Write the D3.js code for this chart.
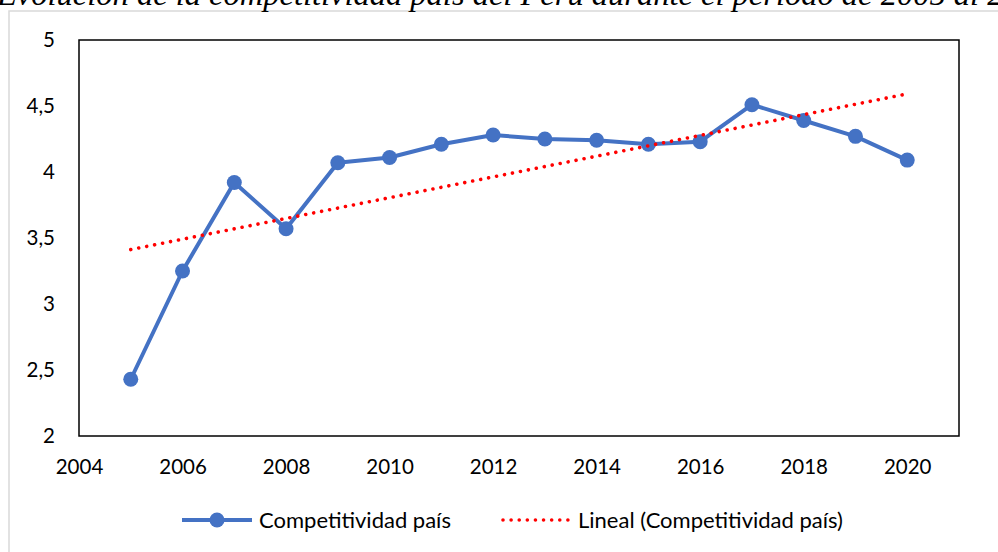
<!DOCTYPE html>
<html>
<head>
<meta charset="utf-8">
<script src="https://cdn.jsdelivr.net/npm/d3@7"></script>
<style>
  body { margin: 0; background: #fff; }
  svg { display: block; }
</style>
</head>
<body>
<div id="chart"></div>
<script>
let titleText = 'Evolución de la competitividad país del Perú durante el período de 2005 al 2020'
let years = [2005, 2006, 2007, 2008, 2009, 2010, 2011, 2012, 2013, 2014, 2015, 2016, 2017, 2018, 2019, 2020]
let scores = [2.43, 3.25, 3.92, 3.57, 4.07, 4.11, 4.21, 4.28, 4.25, 4.24, 4.21, 4.23, 4.51, 4.39, 4.27, 4.09]
let xTicks = [2004, 2006, 2008, 2010, 2012, 2014, 2016, 2018, 2020]
let yTicks = [2, 2.5, 3, 3.5, 4, 4.5, 5]
let seriesName = 'Competitividad país'
let trendName = 'Lineal (Competitividad país)'

let margin = { top: 40, left: 79, right: 39, bottom: 116 }
let fullWidth = 998
let fullHeight = 552
let width = fullWidth - margin.left - margin.right
let height = fullHeight - margin.top - margin.bottom

let font = 'Lato, "Open Sans", sans-serif'

let root = d3
  .select('#chart')
  .append('svg')
  .attr('width', fullWidth)
  .attr('height', fullHeight)

// outer chart frame (light grey)
root
  .append('rect')
  .attr('x', 9)
  .attr('y', 11)
  .attr('width', 1100)
  .attr('height', 700)
  .attr('fill', 'none')
  .attr('stroke', '#d9d9d9')
  .attr('stroke-width', 1.5)

// title, clipped at the top of the page like the original
root
  .append('text')
  .attr('x', -3)
  .attr('y', 5)
  .attr('font-family', '"Liberation Serif", "Times New Roman", serif')
  .attr('font-style', 'italic')
  .attr('font-size', 32.5)
  .attr('fill', '#000')
  .text(titleText)

let svg = root
  .append('g')
  .attr('transform', 'translate(' + margin.left + ',' + margin.top + ')')

let xPositionScale = d3.scaleLinear().domain([2004, 2021]).range([0, width])
let yPositionScale = d3.scaleLinear().domain([2, 5]).range([height, 0])

// plot area border
svg
  .append('rect')
  .attr('x', 0)
  .attr('y', 0)
  .attr('width', width)
  .attr('height', height)
  .attr('fill', 'none')
  .attr('stroke', '#000')
  .attr('stroke-width', 1.5)

let xAxis = d3
  .axisBottom(xPositionScale)
  .tickValues(xTicks)
  .tickFormat(d3.format('d'))
  .tickSize(0)
  .tickPadding(32)
svg
  .append('g')
  .attr('class', 'axis x-axis')
  .attr('transform', 'translate(0,' + height + ')')
  .call(xAxis)

let yAxis = d3
  .axisLeft(yPositionScale)
  .tickValues(yTicks)
  .tickFormat(d => String(d).replace('.', ','))
  .tickSize(0)
  .tickPadding(24)
svg
  .append('g')
  .attr('class', 'axis y-axis')
  .call(yAxis)

svg.selectAll('.axis .domain').remove()
svg
  .selectAll('.axis text')
  .attr('font-family', font)
  .attr('font-size', 20.5)
  .attr('fill', '#000')
svg.selectAll('.x-axis text').attr('dy', '0.3em')

// linear trend (least squares)
let xMean = d3.mean(years)
let yMean = d3.mean(scores)
let slope =
  d3.sum(years, (d, i) => (d - xMean) * (scores[i] - yMean)) /
  d3.sum(years, d => (d - xMean) * (d - xMean))
let intercept = yMean - slope * xMean
let trendEnds = [years[0], years[years.length - 1]].map(x => ({ x: x, y: intercept + slope * x }))

let line = d3
  .line()
  .x(d => xPositionScale(d.x))
  .y(d => yPositionScale(d.y))

let points = years.map((y, i) => ({ x: y, y: scores[i] }))

svg
  .append('path')
  .attr('class', 'score-line')
  .attr('d', line(points))
  .attr('fill', 'none')
  .attr('stroke', '#4472C4')
  .attr('stroke-width', 4)
  .attr('stroke-linejoin', 'round')

svg
  .selectAll('.score-circle')
  .data(points)
  .enter()
  .append('circle')
  .attr('class', 'score-circle')
  .attr('cx', d => xPositionScale(d.x))
  .attr('cy', d => yPositionScale(d.y))
  .attr('r', 7.5)
  .attr('fill', '#4472C4')

svg
  .append('path')
  .attr('class', 'trend-line')
  .attr('d', line(trendEnds))
  .attr('fill', 'none')
  .attr('stroke', '#FF0000')
  .attr('stroke-width', 3.6)
  .attr('stroke-linecap', 'round')
  .attr('stroke-dasharray', '0.01 8.1')

// legend
let legend = root.append('g').attr('class', 'legend')
let legendY = 520

legend
  .append('line')
  .attr('x1', 182)
  .attr('x2', 252)
  .attr('y1', legendY)
  .attr('y2', legendY)
  .attr('stroke', '#4472C4')
  .attr('stroke-width', 4)
legend
  .append('circle')
  .attr('cx', 217)
  .attr('cy', legendY)
  .attr('r', 7.5)
  .attr('fill', '#4472C4')
legend
  .append('text')
  .attr('x', 259)
  .attr('y', legendY)
  .attr('dy', '0.35em')
  .attr('font-family', font)
  .attr('font-size', 22)
  .text(seriesName)

legend
  .append('line')
  .attr('x1', 503)
  .attr('x2', 571)
  .attr('y1', legendY)
  .attr('y2', legendY)
  .attr('stroke', '#FF0000')
  .attr('stroke-width', 3.6)
  .attr('stroke-linecap', 'round')
  .attr('stroke-dasharray', '0.01 8.1')
legend
  .append('text')
  .attr('x', 578)
  .attr('y', legendY)
  .attr('dy', '0.35em')
  .attr('font-family', font)
  .attr('font-size', 22)
  .text(trendName)
</script>
</body>
</html>
